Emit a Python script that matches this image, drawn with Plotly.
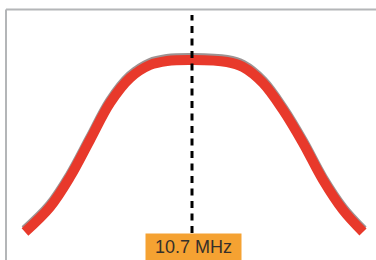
import plotly.graph_objects as go

# Filter response curve (frequency offset in kHz from centre, relative response)
center_mhz = 10.7
offset_khz = [-167, -142, -122, -102, -82, -62, -42, -25, 1, 35, 51, 71, 91, 111, 131, 151, 171]
response = [28, 53, 83, 120, 157, 182, 195, 199, 200, 198, 193, 177, 150, 117, 80, 50, 28]
label_text = "10.7 MHz"

freq = [center_mhz + o / 1000 for o in offset_khz]

fig = go.Figure()

# soft dark edge above the curve
fig.add_trace(go.Scatter(
    x=freq, y=[r + 2 for r in response], mode="lines",
    line=dict(color="rgba(60,40,40,0.5)", width=10, shape="spline", smoothing=1.0),
    hoverinfo="skip", showlegend=False))

fig.add_trace(go.Scatter(
    x=freq, y=response, mode="lines",
    line=dict(color="#e8392b", width=10, shape="spline", smoothing=1.0),
    showlegend=False))

# centre frequency marker
fig.add_trace(go.Scatter(
    x=[center_mhz, center_mhz], y=[27, 245], mode="lines",
    line=dict(color="black", width=3, dash="7px,5.5px"),
    showlegend=False, hoverinfo="skip"))

fig.add_annotation(
    x=center_mhz + 0.0015, y=13, text=label_text, showarrow=False,
    font=dict(family="Liberation Sans, Arial, sans-serif", size=18, color="#35302a"),
    bgcolor="#f5a232", width=93, height=24, xanchor="center", yanchor="middle")

# frame edges (top and left)
fig.add_shape(type="line", xref="paper", yref="paper", x0=6 / 376, x1=1, y0=1 - 9.5 / 260, y1=1 - 9.5 / 260,
              line=dict(color="#b4b6b8", width=2))
fig.add_shape(type="line", xref="paper", yref="paper", x0=6 / 376, x1=6 / 376, y0=0, y1=1 - 9.5 / 260,
              line=dict(color="#b4b6b8", width=2))

fig.update_layout(
    width=376, height=260,
    margin=dict(l=0, r=0, t=0, b=0),
    paper_bgcolor="white", plot_bgcolor="white",
    xaxis=dict(range=[center_mhz - 0.192, center_mhz + 0.184], visible=False, fixedrange=True),
    yaxis=dict(range=[0, 260], visible=False, fixedrange=True),
)

fig.write_html("out.html", config={"displayModeBar": False},
               post_script="document.body.style.margin='0';document.body.style.overflow='hidden';")
